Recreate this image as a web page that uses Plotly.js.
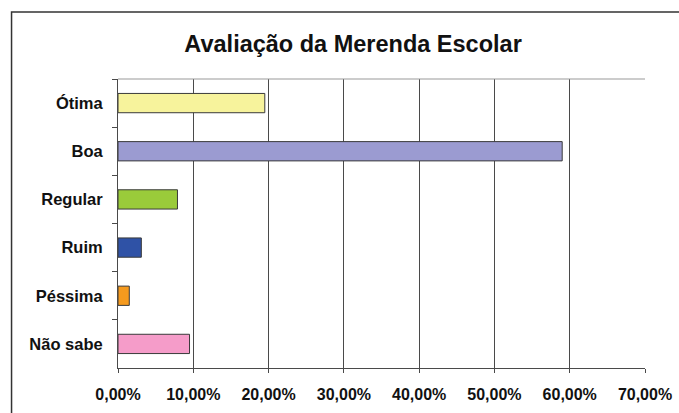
<!DOCTYPE html>
<html><head><meta charset="utf-8">
<script src="https://cdn.plot.ly/plotly-3.0.1.min.js"></script>
<style>body{margin:0;background:#fff}#c{width:679px;height:413px}</style>
</head><body><div id="c"></div>
<script>
const categories = ["Ótima", "Boa", "Regular", "Ruim", "Péssima", "Não sabe"];
const values = [0.195, 0.59, 0.079, 0.031, 0.015, 0.095];
const colors = ["#f7f39c", "#9b9bd1", "#9acb3a", "#2f52a6", "#f59a1e", "#f59cc9"];
const xTicks = [0, 0.1, 0.2, 0.3, 0.4, 0.5, 0.6, 0.7];

const FONT = "Liberation Sans, Arial, sans-serif";
const trace = {
  type: "bar", orientation: "h",
  y: categories, x: values,
  marker: {color: colors, line: {color: "#3a3a3a", width: 1}},
  hoverinfo: "none"
};
const layout = {
  width: 679, height: 413,
  margin: {l: 118, r: 34, t: 79, b: 45},
  paper_bgcolor: "#fff", plot_bgcolor: "#fff",
  separators: ",.",
  showlegend: false,
  bargap: 0.6,
  title: {text: "<b>Avaliação da Merenda Escolar</b>", x: 0.52, xanchor: "center", y: 0.895, yanchor: "middle",
          font: {family: FONT, size: 23.5, color: "#111"}},
  xaxis: {
    range: [0, 0.7], tickvals: xTicks, tickformat: ".2%",
    showgrid: true, gridcolor: "#4a4a4a", gridwidth: 1,
    showline: true, linecolor: "#4a4a4a", linewidth: 1, mirror: false,
    ticks: "outside", ticklen: 4, tickcolor: "#4a4a4a", ticklabelstandoff: 8,
    zeroline: false, fixedrange: true,
    tickfont: {family: FONT, size: 16, color: "#111", weight: "bold"}
  },
  yaxis: {
    type: "category", autorange: "reversed",
    showgrid: false, showline: true, linecolor: "#4a4a4a", linewidth: 1,
    ticks: "outside", ticklen: 5, tickcolor: "#4a4a4a", tickson: "boundaries",
    ticklabelstandoff: 11,
    fixedrange: true,
    tickfont: {family: FONT, size: 16.5, color: "#111", weight: "bold"}
  },
  shapes: [
    {type: "line", xref: "paper", yref: "paper", x0: 0, x1: 1, y0: 1, y1: 1, line: {color: "#999", width: 1}},
    {type: "rect", xref: "paper", yref: "paper", x0: -0.202, x1: 1.2, y0: -0.3, y1: 1.232, line: {color: "#333", width: 1.5}, fillcolor: "rgba(0,0,0,0)"}
  ]
};
Plotly.newPlot("c", [trace], layout, {staticPlot: true, displayModeBar: false});
</script></body></html>
